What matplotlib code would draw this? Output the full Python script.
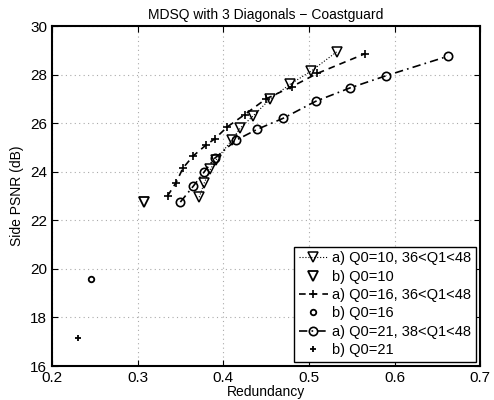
import matplotlib
matplotlib.use("Agg")
import matplotlib.pyplot as plt

plt.rcParams['font.family'] = ['Liberation Sans', 'DejaVu Sans']

# a) Q0=10, 36<Q1<48 (triangles, dotted)
a10_x = [0.372, 0.378, 0.385, 0.392, 0.410, 0.420, 0.435, 0.455, 0.478, 0.503, 0.533]
a10_y = [22.95, 23.55, 24.10, 24.50, 25.30, 25.80, 26.30, 27.00, 27.60, 28.15, 28.95]
# b) Q0=10
b10_x = [0.308]
b10_y = [22.75]
# a) Q0=16, 36<Q1<48 (plus, dashed)
a16_x = [0.335, 0.345, 0.353, 0.365, 0.380, 0.390, 0.405, 0.425, 0.450, 0.480, 0.510, 0.565]
a16_y = [23.00, 23.55, 24.15, 24.65, 25.10, 25.35, 25.85, 26.35, 27.00, 27.50, 28.05, 28.85]
# b) Q0=16
b16_x = [0.246]
b16_y = [19.6]
# a) Q0=21, 38<Q1<48 (circles, dash-dot)
a21_x = [0.350, 0.365, 0.378, 0.390, 0.415, 0.440, 0.470, 0.508, 0.548, 0.590, 0.662]
a21_y = [22.75, 23.40, 24.00, 24.55, 25.30, 25.75, 26.20, 26.90, 27.45, 27.95, 28.75]
# b) Q0=21
b21_x = [0.230]
b21_y = [17.15]

labels = ['a) Q0=10, 36<Q1<48', 'b) Q0=10', 'a) Q0=16, 36<Q1<48',
          'b) Q0=16', 'a) Q0=21, 38<Q1<48', 'b) Q0=21']

fig = plt.figure(figsize=(4.94, 4.0), dpi=100)
ax = fig.add_axes([0.105, 0.085, 0.867, 0.85])

ax.plot(a10_x, a10_y, linestyle=':', color='k', marker='v', markersize=6.5,
        markerfacecolor='none', markeredgecolor='k', linewidth=0.8,
        markeredgewidth=1.1, label=labels[0])
ax.plot(b10_x, b10_y, linestyle='none', marker='v', markersize=6.5,
        markerfacecolor='none', markeredgecolor='k', markeredgewidth=1.3, label=labels[1])
ax.plot(a16_x, a16_y, linestyle=(0, (4, 3)), color='k', marker='+', markersize=6,
        linewidth=1.2, markeredgewidth=1.2, label=labels[2])
ax.plot(b16_x, b16_y, linestyle='none', marker='o', markersize=4,
        markerfacecolor='none', markeredgecolor='k', markeredgewidth=1.3, label=labels[3])
ax.plot(a21_x, a21_y, linestyle=(0, (5, 2.5, 1, 2.5)), color='k', marker='o', markersize=6,
        markerfacecolor='none', markeredgecolor='k', linewidth=1.2, markeredgewidth=1.2,
        label=labels[4])
ax.plot(b21_x, b21_y, linestyle='none', marker='+', markersize=4, color='k',
        markeredgewidth=1.3, label=labels[5])

ax.set_xlim(0.2, 0.7)
ax.set_ylim(16, 30)
ax.set_xticks([0.2, 0.3, 0.4, 0.5, 0.6, 0.7])
ax.set_xticklabels(['0.2', '0.3', '0.4', '0.5', '0.6', '0.7'])
ax.set_yticks([16, 18, 20, 22, 24, 26, 28, 30])
ax.tick_params(direction='in', labelsize=11, length=4, top=True, right=True)
ax.grid(True, linestyle=(0, (1, 3)), color='#aaaaaa', linewidth=0.8)
for s in ax.spines.values():
    s.set_linewidth(1.5)

ax.set_xlabel('Redundancy', fontsize=10, labelpad=0)
ax.set_ylabel('Side PSNR (dB)', fontsize=10)
ax.set_title('MDSQ with 3 Diagonals \u2212 Coastguard', fontsize=10, pad=5)

leg = ax.legend(loc='lower right', fontsize=10.5, fancybox=False, edgecolor='k',
                framealpha=1, handlelength=2.0, borderaxespad=0.3, labelspacing=0.3,
                handletextpad=0.3, borderpad=0.3)
leg.get_frame().set_linewidth(1.0)

fig.savefig('out.png', dpi=100)
